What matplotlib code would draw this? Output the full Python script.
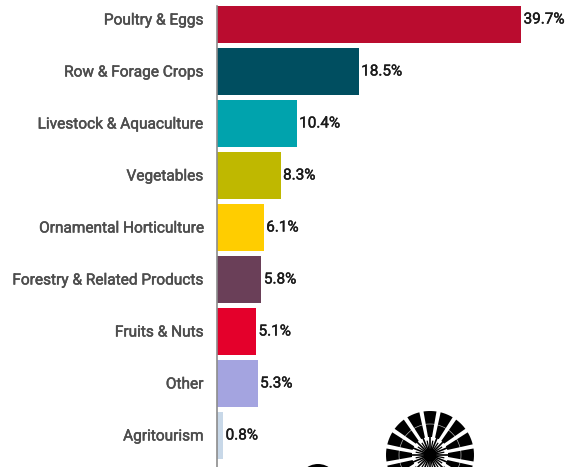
import matplotlib
matplotlib.use("Agg")
import matplotlib.pyplot as plt
import matplotlib.patheffects as pe
from matplotlib.patches import Polygon, Circle
from matplotlib.transforms import ScaledTranslation
import numpy as np

categories = ["Poultry & Eggs", "Row & Forage Crops", "Livestock & Aquaculture", "Vegetables",
              "Ornamental Horticulture", "Forestry & Related Products", "Fruits & Nuts", "Other", "Agritourism"]
values = [39.7, 18.5, 10.4, 8.3, 6.1, 5.8, 5.1, 5.3, 0.8]
colors = ["#BA0C2F", "#004E60", "#00A3AD", "#BFB800", "#FFCD00", "#6A3F58", "#E4002B", "#A4A4E0", "#C8D8E8"]

W, H = 577, 467
plt.rcParams['font.family'] = ['Roboto', 'DejaVu Sans']
fig = plt.figure(figsize=(W/100, H/100), dpi=100)
ax = fig.add_axes([217/W, 0, (W-217)/W, (H-6)/H])
ax.barh(range(len(values)), values, height=47/52, color=colors)
ax.set_ylim((467-19.5)/52, (6-19.5)/52)
ax.set_xlim(0, (W-217)/7.66)
ax.set_yticks(range(len(categories)), categories)
ax.tick_params(axis='y', length=0, pad=10, labelsize=11.1, labelcolor='#4D4D4D')
shift = ScaledTranslation(0, 0.5/100, fig.dpi_scale_trans)
for lab in ax.get_yticklabels():
    lab.set_transform(lab.get_transform() + shift)
    lab.set_path_effects([pe.withStroke(linewidth=0.35, foreground='#4D4D4D')])
ax.set_xticks([])
for s in ['top', 'right', 'bottom']:
    ax.spines[s].set_visible(False)
ax.spines['left'].set_color('#8C8C8C')
ax.spines['left'].set_linewidth(1.2)
for i, v in enumerate(values):
    ax.annotate(f"{v}%", (v, i), xytext=(1.8, 0), textcoords='offset points', va='center', ha='left',
                fontsize=11, color='#1A1A1A',
                path_effects=[pe.withStroke(linewidth=0.3, foreground='#1A1A1A')])

# decorative wheel and dome overlapping the bottom of the picture
ov = fig.add_axes([0, 0, 1, 1])
ov.set_xlim(0, W); ov.set_ylim(H, 0); ov.axis('off'); ov.patch.set_alpha(0)
cx, cy = 430, 455
R = 44
for a in np.arange(0, 360, 22.5):
    t = np.radians(a)
    d = np.radians(8.5)
    n = np.array([-np.sin(t), np.cos(t)])
    u = np.array([np.cos(t), np.sin(t)])
    c = np.array([cx, cy])
    pts = [c + 18*u - 2*n]
    for b in np.linspace(t-d, t+d, 6):
        pts.append((cx+R*np.cos(b), cy+R*np.sin(b)))
    pts.append(c + 18*u + 2*n)
    ov.add_patch(Polygon(pts, closed=True, fc='black', ec='none'))
    ov.plot([cx, cx+20*np.cos(t)], [cy, cy+20*np.sin(t)], color='black', lw=1.2)
    mid = t + np.radians(11.25)
    ov.plot([cx, cx+14*np.cos(mid)], [cy, cy+14*np.sin(mid)], color='black', lw=0.9)
ov.add_patch(Circle((cx, cy), R-13, fc='none', ec='white', lw=0.5, alpha=0.7))
ov.add_patch(Circle((cx, cy), 6.5, fc='black', ec='none'))
ov.add_patch(Circle((318, 484), 20, fc='black', ec='none'))
fig.savefig("out.png", dpi=100)
